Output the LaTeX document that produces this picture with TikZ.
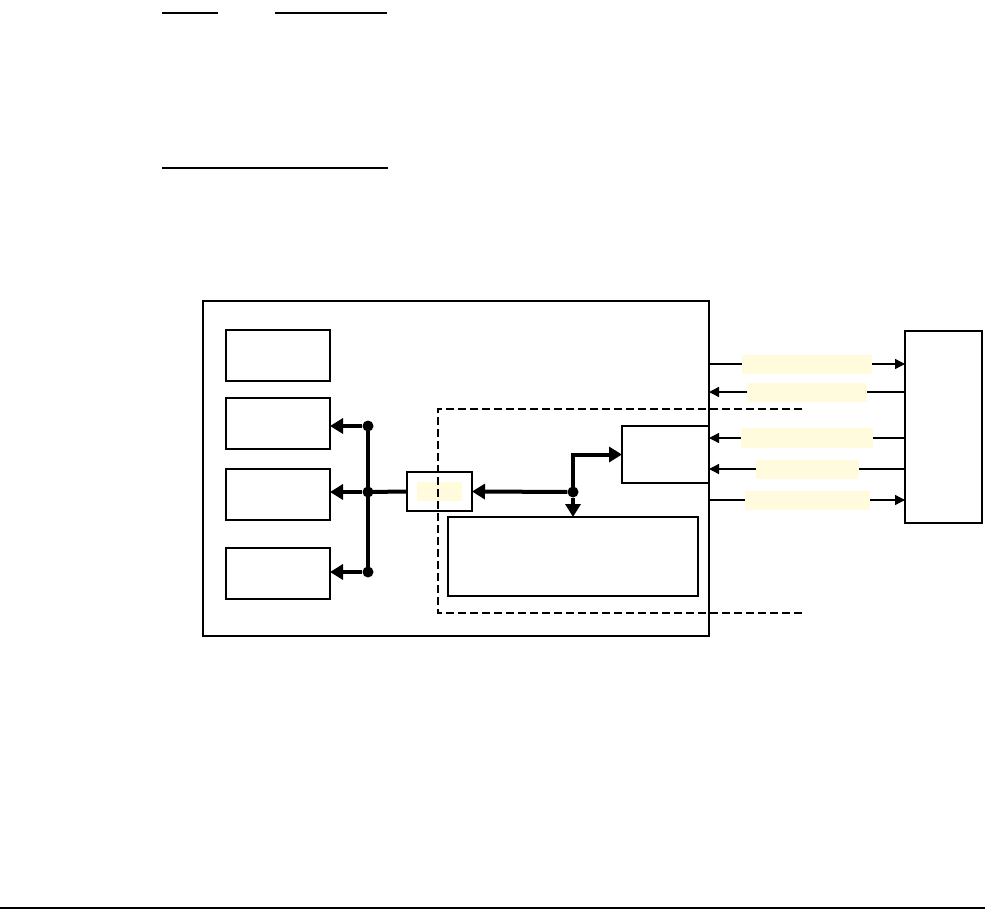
\documentclass[tikz,border=0pt]{standalone}
\usepackage{xcolor}
\usepackage{tikz}
\usetikzlibrary{positioning,arrows.meta,calc}
\definecolor{brdink}{HTML}{000000}
\definecolor{brdlabel}{HTML}{FFFBDC}

\begin{document}
\begin{tikzpicture}[x=1pt,y=-1pt,
  blk/.style={draw=brdink,line width=1.3pt,fill=white,inner sep=0pt,outer sep=0pt},
  lbl/.style={fill=brdlabel,inner sep=0pt,minimum height=19pt},
  bus/.style={line width=4pt,-{Triangle[length=13pt,width=15pt]}},
  sig/.style={line width=1.4pt,-{Triangle[length=10pt,width=10pt]}},
  junc/.style={circle,fill=brdink,inner sep=0pt,minimum size=11pt}
]
\useasboundingbox (0,0) rectangle (985,909);

% header rules
\draw[line width=1.6pt] (162,13) -- (218,13);
\draw[line width=1.6pt] (275,13) -- (387,13);
\draw[line width=1.6pt] (162,168) -- (388,168);
\draw[line width=1.6pt] (0,908) -- (985,908);

% board
\node[blk,line width=2.2pt,minimum width=506pt,minimum height=335pt] (board) at (456,468.5) {};
\node[blk,minimum width=104pt,minimum height=51pt] (unitA) at (278,355.5) {};
\node[blk,minimum width=104pt,minimum height=51pt] (unitB) at (278,423.5) {};
\node[blk,minimum width=104pt,minimum height=51pt] (unitC) at (278,494.5) {};
\node[blk,minimum width=104pt,minimum height=51pt] (unitD) at (278,573.5) {};
\node[blk,minimum width=65pt,minimum height=39pt] (bridge) at (439.5,491.5) {};
\node[lbl,minimum width=45pt] (bridgetag) at (bridge) {};
\node[blk,minimum width=87pt,minimum height=57pt] (ctrl) at (665.5,454.5) {};
\node[blk,minimum width=250pt,minimum height=79pt] (mem) at (573,556.5) {};
\node[blk,minimum width=77pt,minimum height=192pt] (host) at (943.5,427) {};

% bus to the units
\node[junc] (tapB) at (368,426) {};
\node[junc] (tapC) at (368,492) {};
\node[junc] (tapD) at (368,572) {};
\draw[line width=4pt] (tapB.center) -- (tapD.center);
\draw[line width=4pt] (bridge.west) -- (tapC.center);
\draw[bus] (tapB) -- (tapB -| unitB.east);
\draw[bus] (tapC) -- (tapC -| unitC.east);
\draw[bus] (tapD) -- (tapD -| unitD.east);

% bus inside the module
\node[junc] (split) at (573,492) {};
\draw[bus] (split) -- (bridge.east);
\draw[bus] (split) -- (split |- mem.north);
\draw[bus] (split.center) |- (ctrl.west);

% signals to the host
\coordinate (s1) at (709,364);
\coordinate (s2) at (709,392);
\coordinate (s3) at (709,438);
\coordinate (s4) at (709,469);
\coordinate (s5) at (709,500);
\draw[sig] (s1) -- node[lbl,minimum width=130pt] (tag1) {} (s1 -| host.west);
\draw[sig] (s2 -| host.west) -- node[lbl,minimum width=120pt] (tag2) {} (s2);
\draw[sig] (s3 -| host.west) -- node[lbl,minimum width=132pt,minimum height=20pt] (tag3) {} (s3);
\draw[sig] (s4 -| host.west) -- node[lbl,minimum width=103pt] (tag4) {} (s4);
\draw[sig] (s5) -- node[lbl,minimum width=125pt] (tag5) {} (s5 -| host.west);

% module boundary
\draw[line width=2.2pt,dash pattern=on 8pt off 4pt] (802,409) -- (438,409) -- (438,613) -- (802,613);
\end{tikzpicture}
\end{document}
